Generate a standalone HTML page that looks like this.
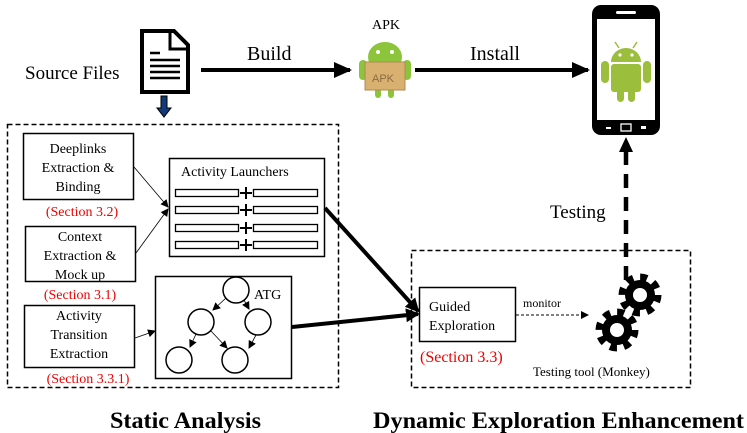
<!DOCTYPE html>
<html><head><meta charset="utf-8"><style>
html,body{margin:0;padding:0;background:#fff}
svg{display:block}
text{font-family:"Liberation Serif",serif}
.r{fill:#e00}
</style></head><body>
<svg width="747" height="433" viewBox="0 0 747 433" xmlns="http://www.w3.org/2000/svg">
<defs>
<marker id="a" markerWidth="8" markerHeight="8" refX="7" refY="4" orient="auto" markerUnits="userSpaceOnUse"><path d="M0,0 L8,4 L0,8 z"/></marker>
<marker id="b" markerWidth="14" markerHeight="14" refX="12" refY="7" orient="auto" markerUnits="userSpaceOnUse"><path d="M0,0 L14,7 L0,14 z"/></marker>
<marker id="c" markerWidth="18" markerHeight="16" refX="16" refY="8" orient="auto" markerUnits="userSpaceOnUse"><path d="M0,0 L18,8 L0,16 z"/></marker>
<g id="gear"><circle r="15" fill="#000"/><circle r="18" fill="none" stroke="#000" stroke-width="7" stroke-dasharray="7.1 7.04"/><circle r="7" fill="#fff"/></g>
</defs>

<text x="25" y="79" font-size="19">Source Files</text>
<path d="M142,31 H174 L188,45 V92 H142 Z" fill="#fff" stroke="#000" stroke-width="4"/>
<path d="M170,31 V49 H188" fill="none" stroke="#000" stroke-width="3"/>
<g stroke="#000" stroke-width="2.5"><line x1="150" y1="53" x2="160" y2="53"/><line x1="150" y1="60" x2="180" y2="60"/><line x1="150" y1="66" x2="180" y2="66"/><line x1="150" y1="72" x2="180" y2="72"/><line x1="150" y1="78" x2="180" y2="78"/></g>
<path d="M161,96 H167 V108 H171 L164,117 L157,108 H161 Z" fill="#123a7a" stroke="#000" stroke-width="1"/>
<line x1="201" y1="70" x2="350" y2="70" stroke="#000" stroke-width="4" marker-end="url(#c)"/>
<text x="247" y="60" font-size="20">Build</text>
<text x="372" y="29" font-size="14">APK</text>
<ellipse cx="385" cy="57" rx="17" ry="15" fill="#8cc43c"/>
<circle cx="378" cy="52" r="2" fill="#fff"/><circle cx="392" cy="52" r="2" fill="#fff"/>
<rect x="359" y="60" width="8" height="20" rx="4" fill="#8cc43c"/><rect x="403" y="60" width="8" height="20" rx="4" fill="#8cc43c"/>
<rect x="375" y="88" width="6" height="10" rx="3" fill="#8cc43c"/><rect x="388" y="88" width="6" height="10" rx="3" fill="#8cc43c"/>
<rect x="365" y="62" width="40" height="28" fill="#d8b070" stroke="#b08a50"/>
<text x="372" y="82" font-size="11" style="font-family:'Liberation Sans',sans-serif;fill:#8a6a40">APK</text>
<line x1="415" y1="70" x2="588" y2="70" stroke="#000" stroke-width="4" marker-end="url(#c)"/>
<text x="470" y="60" font-size="20">Install</text>
<rect x="592" y="5" width="68" height="130" rx="9" fill="#000"/>
<rect x="597" y="19" width="58" height="101" fill="#fff"/>
<rect x="616" y="11" width="20" height="3" rx="1.5" fill="#fff"/>
<rect x="621" y="124" width="10" height="7" fill="none" stroke="#fff" stroke-width="1.3"/>
<rect x="606" y="127" width="5" height="2" fill="#fff"/><rect x="641" y="126" width="5" height="3" fill="#fff"/>
<path d="M611,62 A15,14 0 0 1 641,62 Z" fill="#9bbf3c"/>
<rect x="611" y="64" width="30" height="28" rx="3" fill="#9bbf3c"/>
<rect x="601" y="61" width="8" height="22" rx="4" fill="#9bbf3c"/><rect x="643" y="61" width="8" height="22" rx="4" fill="#9bbf3c"/>
<rect x="617" y="88" width="7" height="14" rx="3.5" fill="#9bbf3c"/><rect x="628" y="88" width="7" height="14" rx="3.5" fill="#9bbf3c"/>
<circle cx="620" cy="55" r="1.6" fill="#fff"/><circle cx="632" cy="55" r="1.6" fill="#fff"/>
<line x1="615" y1="42" x2="619" y2="48" stroke="#9bbf3c" stroke-width="1.5"/><line x1="637" y1="42" x2="633" y2="48" stroke="#9bbf3c" stroke-width="1.5"/>

<line x1="626" y1="280" x2="626" y2="152" stroke="#000" stroke-width="4.5" stroke-dasharray="14 9"/>
<path d="M626,137 L633,152 L619,152 Z"/>
<text x="550" y="218" font-size="19">Testing</text>

<rect x="7.5" y="124.5" width="331" height="263" fill="none" stroke="#000" stroke-width="1.5" stroke-dasharray="5 3"/>
<g fill="#fff" stroke="#000" stroke-width="1.5">
<rect x="23.5" y="133.5" width="110" height="66"/>
<rect x="25.5" y="226.5" width="110" height="55"/>
<rect x="24.5" y="305.5" width="110" height="62"/>
<rect x="169.5" y="158.5" width="155" height="98"/>
<rect x="155.5" y="276.5" width="136" height="102"/>
</g>
<g font-size="14" text-anchor="middle">
<text x="78" y="153">Deeplinks</text><text x="78" y="172">Extraction &amp;</text><text x="78" y="191">Binding</text>
<text x="80" y="241">Context</text><text x="80" y="260">Extraction &amp;</text><text x="80" y="279">Mock up</text>
<text x="79" y="320">Activity</text><text x="79" y="339">Transition</text><text x="79" y="358">Extraction</text>
</g>
<g font-size="14" text-anchor="middle">
<text x="82" y="216" class="r">(Section 3.2)</text>
<text x="80" y="299" class="r">(Section 3.1)</text>
<text x="88" y="383" class="r">(Section 3.3.1)</text>
</g>
<text x="181" y="176" font-size="14">Activity Launchers</text>
<g fill="#fff" stroke="#000" stroke-width="1.3">
<rect x="175.5" y="189.5" width="63" height="7"/><rect x="253.5" y="189.5" width="64" height="7"/>
<rect x="175.5" y="206.5" width="63" height="7"/><rect x="253.5" y="206.5" width="64" height="7"/>
<rect x="175.5" y="224.5" width="63" height="7"/><rect x="253.5" y="224.5" width="64" height="7"/>
<rect x="175.5" y="241.5" width="63" height="7"/><rect x="253.5" y="241.5" width="64" height="7"/>
</g>
<g stroke="#000" stroke-width="2">
<path d="M240,193 H252 M246,187 V199"/><path d="M240,210 H252 M246,204 V216"/><path d="M240,228 H252 M246,222 V234"/><path d="M240,245 H252 M246,239 V251"/>
</g>
<g stroke="#000" stroke-width="0.8" fill="none">
<line x1="134" y1="167" x2="168" y2="207" marker-end="url(#a)"/>
<line x1="136" y1="253" x2="168" y2="209" marker-end="url(#a)"/>
<line x1="135" y1="338" x2="155" y2="331" marker-end="url(#a)"/>
</g>
<g fill="#fff" stroke="#000" stroke-width="1.5">
<circle cx="236" cy="290" r="13"/><circle cx="201" cy="322" r="13"/><circle cx="258" cy="322" r="13"/>
<circle cx="179" cy="360" r="13"/><circle cx="235" cy="360" r="13"/>
</g>
<g stroke="#000" stroke-width="0.8">
<line x1="226" y1="298" x2="213" y2="310" marker-end="url(#a)"/>
<line x1="244" y1="300" x2="249" y2="309" marker-end="url(#a)"/>
<line x1="196" y1="334" x2="190" y2="347" marker-end="url(#a)"/>
<line x1="211" y1="331" x2="227" y2="348" marker-end="url(#a)"/>
<line x1="256" y1="335" x2="249" y2="348" marker-end="url(#a)"/>
</g>
<text x="254" y="299" font-size="14">ATG</text>
<line x1="325" y1="208" x2="418" y2="311" stroke="#000" stroke-width="4" marker-end="url(#b)"/>
<line x1="292" y1="327" x2="418" y2="314" stroke="#000" stroke-width="4" marker-end="url(#b)"/>

<rect x="411.5" y="250.5" width="279" height="137" fill="none" stroke="#000" stroke-width="1.5" stroke-dasharray="5 3"/>
<rect x="419.5" y="287.5" width="96" height="54" fill="#fff" stroke="#000" stroke-width="1.5"/>
<text x="429" y="311" font-size="14">Guided</text>
<text x="429" y="330" font-size="14">Exploration</text>
<text x="420" y="362" font-size="16" class="r">(Section 3.3)</text>
<text x="523" y="307" font-size="12">monitor</text>
<line x1="516" y1="315" x2="588" y2="315" stroke="#000" stroke-width="1" stroke-dasharray="3 2" marker-end="url(#a)"/>
<use href="#gear" x="640" y="295"/>
<use href="#gear" x="617" y="330"/>
<text x="533" y="376" font-size="13">Testing tool (Monkey)</text>

<text x="110" y="428" font-size="23" font-weight="bold" textLength="151" lengthAdjust="spacingAndGlyphs">Static Analysis</text>
<text x="373" y="428" font-size="23" font-weight="bold" textLength="371" lengthAdjust="spacingAndGlyphs">Dynamic Exploration Enhancement</text>
</svg>
</body></html>
